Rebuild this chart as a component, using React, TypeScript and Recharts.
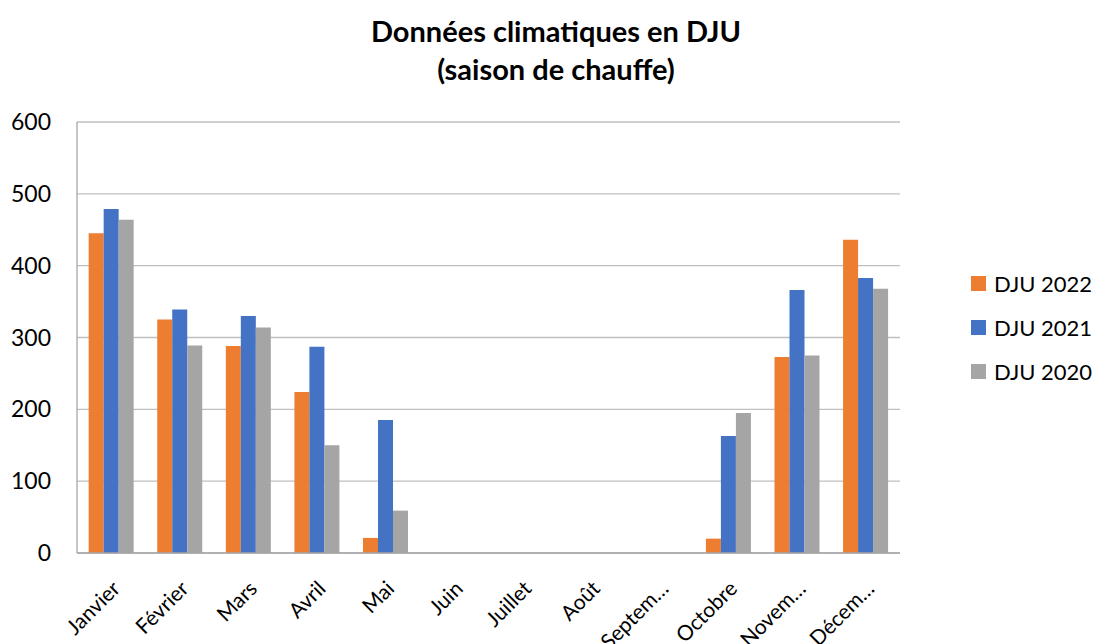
import React from 'react';
import { BarChart, Bar, XAxis, YAxis, CartesianGrid } from 'recharts';

if (typeof document !== 'undefined') {
  document.body.style.margin = '0';
}

const months = ['Janvier', 'Février', 'Mars', 'Avril', 'Mai', 'Juin', 'Juillet', 'Août', 'Septem…', 'Octobre', 'Novem…', 'Décem…'];
const dju2022 = [445, 325, 288, 224, 21, 0, 0, 0, 0, 20, 273, 436];
const dju2021 = [479, 339, 330, 287, 185, 0, 0, 0, 0, 163, 366, 383];
const dju2020 = [464, 289, 314, 150, 59, 0, 0, 0, 0, 195, 275, 368];
const yTicks = [0, 100, 200, 300, 400, 500, 600];
const titleLines = ['Données climatiques en DJU', '(saison de chauffe)'];

const seriesDefs = [
  { key: 'dju2022', name: 'DJU 2022', color: '#ED7D31' },
  { key: 'dju2021', name: 'DJU 2021', color: '#4472C4' },
  { key: 'dju2020', name: 'DJU 2020', color: '#A5A5A5' },
];

const data = months.map((m, i) => ({
  month: m,
  dju2022: dju2022[i],
  dju2021: dju2021[i],
  dju2020: dju2020[i],
}));

const FONT = 'Lato, "Open Sans", sans-serif';

const MonthTick = (props: any) => {
  const { x, y, payload } = props;
  return (
    <g transform={`translate(${x + 10},${y + 29})`}>
      <text
        x={0}
        y={0}
        textAnchor="end"
        transform="rotate(-45)"
        fontFamily={FONT}
        fontSize={21}
        fill="#000"
      >
        {payload.value}
      </text>
    </g>
  );
};

export default function App() {
  return (
    <div style={{ position: 'relative', width: 1096, height: 644, background: '#fff', fontFamily: FONT }}>
      <svg width={1096} height={100} style={{ position: 'absolute', left: 0, top: 0 }}>
        {titleLines.map((t, i) => (
          <text
            key={i}
            x={556}
            y={42 + i * 38}
            textAnchor="middle"
            fontFamily={FONT}
            fontWeight={700}
            fontSize={29}
            fill="#000"
          >
            {t}
          </text>
        ))}
      </svg>
      <div style={{ position: 'absolute', left: 971, top: 261, fontFamily: FONT, fontSize: 22, color: '#000' }}>
        {seriesDefs.map((s) => (
          <div key={s.key} style={{ display: 'flex', alignItems: 'center', height: 44 }}>
            <span style={{ display: 'inline-block', width: 15, height: 15, background: s.color, marginRight: 8 }} />
            <span>{s.name}</span>
          </div>
        ))}
      </div>
      <BarChart
        width={1096}
        height={644}
        data={data}
        margin={{ top: 122, right: 196, bottom: 0, left: 0 }}
        barCategoryGap="17%"
        barGap={0}
      >
        <CartesianGrid vertical={false} stroke="#BFBFBF" strokeWidth={1.3} />
        <YAxis
          width={77}
          domain={[0, 600]}
          ticks={yTicks}
          tickLine={false}
          axisLine={{ stroke: '#A6A6A6', strokeWidth: 1.3 }}
          tickSize={0}
          tickMargin={26}
          tick={{ fontFamily: FONT, fontSize: 23, fill: '#000' }}
        />
        <XAxis
          dataKey="month"
          interval={0}
          tickLine={false}
          axisLine={{ stroke: '#A6A6A6', strokeWidth: 1.3 }}
          tick={<MonthTick />}
          height={91}
        />
        {seriesDefs.map((s) => (
          <Bar key={s.key} dataKey={s.key} name={s.name} fill={s.color} isAnimationActive={false} />
        ))}
      </BarChart>
    </div>
  );
}
